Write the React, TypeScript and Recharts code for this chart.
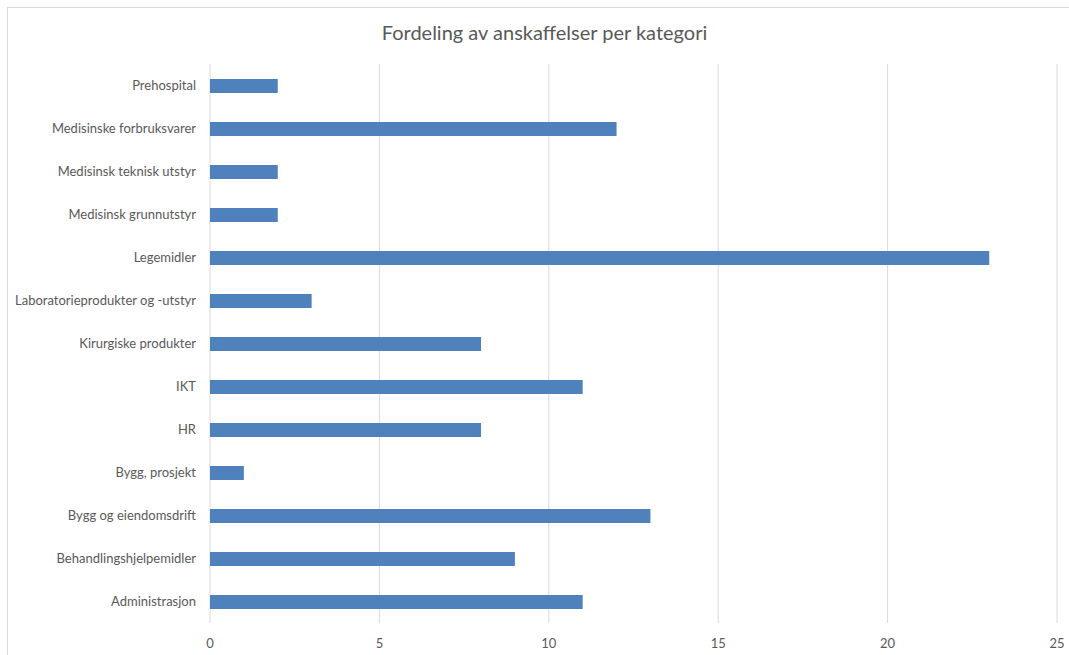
import { Bar, BarChart, CartesianGrid, XAxis, YAxis } from "recharts";

const categories = [
  "Prehospital",
  "Medisinske forbruksvarer",
  "Medisinsk teknisk utstyr",
  "Medisinsk grunnutstyr",
  "Legemidler",
  "Laboratorieprodukter og -utstyr",
  "Kirurgiske produkter",
  "IKT",
  "HR",
  "Bygg, prosjekt",
  "Bygg og eiendomsdrift",
  "Behandlingshjelpemidler",
  "Administrasjon",
];
const counts = [2, 12, 2, 2, 23, 3, 8, 11, 8, 1, 13, 9, 11];
const xTicks = [0, 5, 10, 15, 20, 25];

const data = categories.map((name, i) => ({ name, value: counts[i] }));

const font = "Lato, 'Open Sans', sans-serif";
const textColor = "#595959";

// plain tick so long names don't wrap
function CategoryTick(props: any) {
  const { x, y, payload } = props;
  return (
    <text
      x={x}
      y={y}
      dy={4.5}
      textAnchor="end"
      fill={textColor}
      fontSize={13}
      fontFamily={font}
    >
      {payload.value}
    </text>
  );
}

export default function App() {
  return (
    <>
      <style>{`body{margin:0;overflow:hidden}`}</style>
      <div
        style={{
          position: "absolute",
          left: 7,
          top: 7,
          width: 1070,
          height: 660,
          border: "1px solid #d9d9d9",
          background: "#fff",
          fontFamily: font,
        }}
      >
        <div
          style={{
            position: "absolute",
            top: 12,
            left: 0,
            width: 1073,
            textAlign: "center",
            fontSize: 20,
            color: textColor,
          }}
        >
          Fordeling av anskaffelser per kategori
        </div>
        <BarChart
          width={1061}
          height={645}
          data={data}
          layout="vertical"
          margin={{ top: 56, right: 12, left: 0, bottom: 0 }}
          barCategoryGap={0}
        >
          <CartesianGrid horizontal={false} vertical stroke="#d9d9d9" />
          <XAxis
            type="number"
            domain={[0, 25]}
            ticks={xTicks}
            axisLine={false}
            tickLine={false}
            height={30}
            tick={{ fill: textColor, fontSize: 13, fontFamily: font }}
            tickMargin={10}
          />
          <YAxis
            type="category"
            dataKey="name"
            width={202}
            axisLine={false}
            tickLine={false}
            tickMargin={8}
            interval={0}
            tick={<CategoryTick />}
          />
          <Bar dataKey="value" fill="#4f81bd" barSize={14} isAnimationActive={false} />
        </BarChart>
      </div>
    </>
  );
}
